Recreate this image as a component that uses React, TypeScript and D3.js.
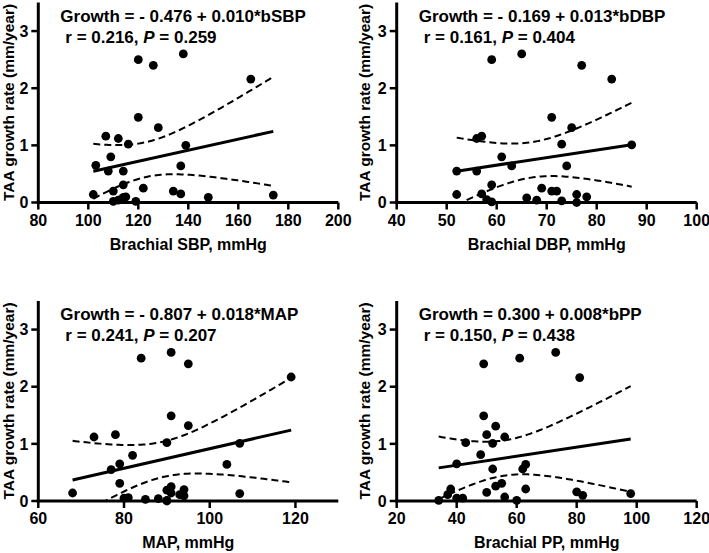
import React from "react";
import * as d3 from "d3";

// ---------- data ----------
const sbpX = [120, 126, 138, 165, 120, 128, 107, 112, 116, 139, 109, 103, 137, 108, 114, 114, 102, 110, 122, 134, 137, 148, 174, 110, 112, 114, 115, 119, 113];
const sbpY = [2.5, 2.4, 2.6, 2.16, 1.49, 1.31, 1.16, 1.12, 1.02, 1.0, 0.8, 0.65, 0.64, 0.55, 0.55, 0.31, 0.14, 0.2, 0.25, 0.2, 0.15, 0.09, 0.13, 0.02, 0.04, 0.09, 0.1, 0.02, 0.05];

const dbpX = [59, 65, 77, 83, 71, 75, 56, 57, 73, 87, 61, 63, 74, 52, 56, 59, 52, 57, 69, 71, 72, 76, 78, 66, 68, 73, 76, 58, 59];
const dbpY = [2.5, 2.6, 2.4, 2.16, 1.49, 1.31, 1.12, 1.16, 1.02, 1.01, 0.8, 0.64, 0.64, 0.55, 0.55, 0.31, 0.14, 0.15, 0.25, 0.2, 0.2, 0.14, 0.1, 0.08, 0.04, 0.03, 0.0, 0.05, 0.01];

const mapX = [84, 91, 95, 119, 91, 95, 73, 78, 90, 107, 82, 79, 104, 77, 68, 79, 80, 81, 85, 88, 90, 90, 91, 93, 94, 94, 107, 91, 90];
const mapY = [2.5, 2.6, 2.4, 2.17, 1.49, 1.32, 1.12, 1.16, 1.02, 1.01, 0.8, 0.65, 0.64, 0.55, 0.14, 0.31, 0.05, 0.06, 0.03, 0.04, 0.01, 0.19, 0.25, 0.11, 0.2, 0.09, 0.13, 0.14, 0.0];

const ppX = [49, 61, 73, 81, 49, 53, 50, 56, 43, 52, 48, 40, 52, 62, 63, 63, 50, 53, 55, 56, 60, 80, 82, 98, 34, 37, 38, 40, 42];
const ppY = [2.4, 2.5, 2.6, 2.16, 1.49, 1.31, 1.16, 1.12, 1.02, 1.01, 0.81, 0.65, 0.56, 0.56, 0.64, 0.21, 0.15, 0.26, 0.31, 0.07, 0.01, 0.16, 0.1, 0.13, 0.01, 0.11, 0.21, 0.05, 0.05];

const sbpTicks = [80, 100, 120, 140, 160, 180, 200];
const dbpTicks = [40, 50, 60, 70, 80, 90, 100];
const mapTicks = [60, 80, 100, 120];
const ppTicks = [20, 40, 60, 80, 100, 120];
const yTicks = [0, 1, 2, 3];

const eqLines = [
  "Growth = - 0.476 + 0.010*bSBP",
  "Growth = - 0.169 + 0.013*bDBP",
  "Growth = - 0.807 + 0.018*MAP",
  "Growth = 0.300 + 0.008*bPP",
];
const rValues = ["0.216", "0.161", "0.241", "0.150"];
const pValues = ["0.259", "0.404", "0.207", "0.438"];
const xTitles = ["Brachial SBP, mmHg", "Brachial DBP, mmHg", "MAP, mmHg", "Brachial PP, mmHg"];
const yTitle = "TAA growth rate (mm/year)";

// ---------- layout ----------
const FONT = "'Liberation Sans', Arial, Helvetica, sans-serif";
const PW = 300;
const PH = 200;

const panels = [
  { xs: sbpX, ys: sbpY, ticks: sbpTicks, domain: [80, 200], left: 38.3, top: 2.5, ylab: 14 },
  { xs: dbpX, ys: dbpY, ticks: dbpTicks, domain: [40, 100], left: 396.7, top: 2.5, ylab: 370 },
  { xs: mapX, ys: mapY, ticks: mapTicks, domain: [60, 130], left: 38.3, top: 301, ylab: 14 },
  { xs: ppX, ys: ppY, ticks: ppTicks, domain: [20, 120], left: 396.7, top: 301, ylab: 370 },
];

function Panel({ cfg, idx }: { cfg: any; idx: number }) {
  const { xs, ys, ticks, domain, left, top, ylab } = cfg;
  const bottom = top + PH;
  const x = d3.scaleLinear().domain(domain).range([left, left + PW]);
  const y = d3.scaleLinear().domain([0, 3.5]).range([bottom, top]);

  const n = xs.length;
  const xbar = d3.mean(xs) as number;
  const ybar = d3.mean(ys) as number;
  const Sxx = d3.sum(xs, (v: number) => (v - xbar) ** 2);
  const Sxy = d3.sum(xs.map((v: number, i: number) => (v - xbar) * (ys[i] - ybar)));
  const b = Sxy / Sxx;
  const a = ybar - b * xbar;
  const ss = d3.sum(xs.map((v: number, i: number) => (ys[i] - a - b * v) ** 2));
  const s = Math.sqrt(ss / (n - 2));
  const t = 2.052;
  const [xmin, xmax] = d3.extent(xs) as [number, number];
  const grid = d3.range(0, 81).map((i) => xmin + ((xmax - xmin) * i) / 80);
  const hw = (g: number) => t * s * Math.sqrt(1 / n + (g - xbar) ** 2 / Sxx);
  const upper = grid.map((g) => [g, a + b * g + hw(g)] as [number, number]);
  const lower = grid.map((g) => [g, a + b * g - hw(g)] as [number, number]);
  const line = d3
    .line<[number, number]>()
    .x((d) => x(d[0]))
    .y((d) => y(d[1]));
  const clipId = `clip${idx}`;

  return (
    <g>
      <defs>
        <clipPath id={clipId}>
          <rect x={left} y={top - 10} width={PW + 10} height={PH + 10} />
        </clipPath>
      </defs>
      <g clipPath={`url(#${clipId})`}>
        <path d={line(upper) || ""} fill="none" stroke="#000" strokeWidth={2} strokeDasharray="7,4" />
        <path d={line(lower) || ""} fill="none" stroke="#000" strokeWidth={2} strokeDasharray="7,4" />
      </g>
      <path
        d={line([[xmin, a + b * xmin], [xmax, a + b * xmax]]) || ""}
        fill="none"
        stroke="#000"
        strokeWidth={3}
      />
      {xs.map((v: number, i: number) => (
        <circle key={i} cx={x(v)} cy={y(ys[i])} r={4.4} fill="#000" />
      ))}
      <line x1={left} x2={left} y1={top} y2={bottom + 1.5} stroke="#000" strokeWidth={3} />
      <line x1={left - 1.5} x2={left + PW} y1={bottom} y2={bottom} stroke="#000" strokeWidth={3} />
      {ticks.map((tv: number) => (
        <g key={"xt" + tv}>
          <line x1={x(tv)} x2={x(tv)} y1={bottom} y2={bottom + 7} stroke="#000" strokeWidth={2.5} />
          <text x={x(tv)} y={bottom + 23} textAnchor="middle" fontSize={16} fontWeight="bold" fontFamily={FONT}>
            {tv}
          </text>
        </g>
      ))}
      {yTicks.map((tv) => (
        <g key={"yt" + tv}>
          <line x1={left - 7} x2={left} y1={y(tv)} y2={y(tv)} stroke="#000" strokeWidth={2.5} />
          <text x={left - 10} y={y(tv)} dy="0.36em" textAnchor="end" fontSize={16} fontWeight="bold" fontFamily={FONT}>
            {tv}
          </text>
        </g>
      ))}
      <text x={left + PW / 2} y={bottom + 47} textAnchor="middle" fontSize={16} fontWeight="bold" fontFamily={FONT}>
        {xTitles[idx]}
      </text>
      <text
        transform={`translate(${ylab},${top + PH / 2}) rotate(-90)`}
        textAnchor="middle"
        fontSize={15.5}
        fontWeight="bold"
        fontFamily={FONT}
      >
        {yTitle}
      </text>
      <text x={left + 22} y={top + 19} fontSize={17} fontWeight="bold" fontFamily={FONT}>
        {eqLines[idx]}
      </text>
      <text x={left + 27} y={top + 40} fontSize={17} fontWeight="bold" fontFamily={FONT}>
        <tspan>{`r = ${rValues[idx]}, `}</tspan>
        <tspan fontStyle="italic">P</tspan>
        <tspan>{` = ${pValues[idx]}`}</tspan>
      </text>
    </g>
  );
}

export default function App() {
  return (
    <svg
      width={709}
      height={553}
      style={{ position: "absolute", left: 0, top: 0, background: "#fff" }}
    >
      <rect width={709} height={553} fill="#fff" />
      {panels.map((p, i) => (
        <Panel key={i} cfg={p} idx={i} />
      ))}
    </svg>
  );
}
